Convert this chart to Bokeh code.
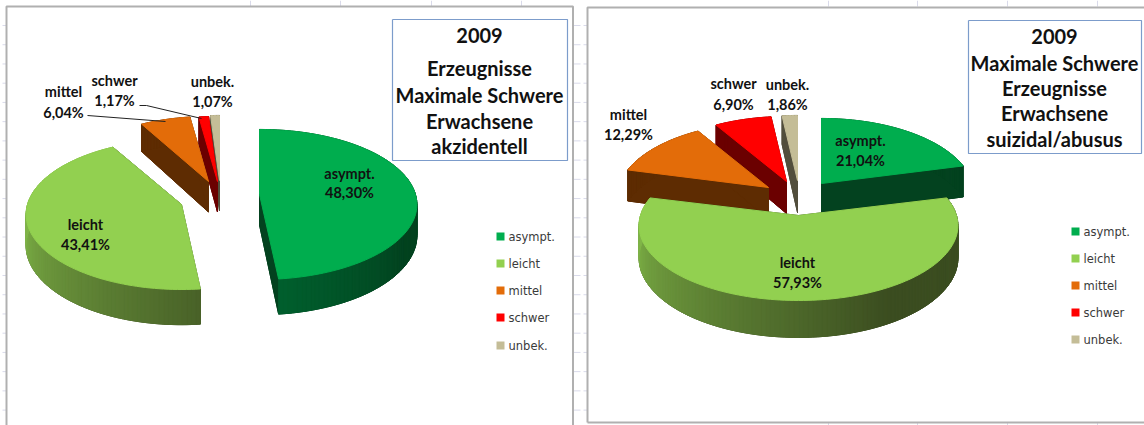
import numpy as np
from bokeh.plotting import figure
from bokeh.models import Range1d
from bokeh.core.properties import value
from bokeh.embed import file_html
from bokeh.resources import INLINE

# ---- data ----
categories = ["asympt.", "leicht", "mittel", "schwer", "unbek."]
values_left = [48.30, 43.41, 6.04, 1.17, 1.07]
values_right = [21.04, 57.93, 12.29, 6.90, 1.86]
title_left = ["2009", "Erzeugnisse", "Maximale Schwere", "Erwachsene", "akzidentell"]
title_right = ["2009", "Maximale Schwere", "Erzeugnisse", "Erwachsene", "suizidal/abusus"]

# ---- styles ----
top_colors = ["#00AD4E", "#92D050", "#E36C09", "#FF0000", "#C4BD97"]
wall_colors = ["#03421F", "#3B4D20", "#5E2C02", "#6B0000", "#524E3C"]
grad_colors = {0: ("#03421F", "#00602E", 120, 176), 1: ("#3B4D20", "#80B548", 150, 270)}

# ---- layout (page pixels) ----
W, H = 1144, 425
RY, KP = 73.7, 0.133
pies = [
    dict(vals=values_left, depth=30.5,
         apex=[(259, 194), (181, 204), (208, 181), (217, 181), (219, 180)],
         rx=[156, 154, 150, 150, 150]),
    dict(vals=values_right, depth=32,
         apex=[(821, 183), (798, 215), (768, 187), (786, 181), (797, 180)],
         rx=[151, 158, 150, 150, 150]),
]
draw_order = [4, 3, 2, 0, 1]

def hex2rgb(h):
    return np.array([int(h[i:i+2], 16) for i in (1, 3, 5)], float)

def mix(a, b, t):
    c = hex2rgb(a) * (1 - t) + hex2rgb(b) * t
    return "#%02X%02X%02X" % tuple(int(round(x)) for x in c)

def project(theta_deg, r, apex, rx, z, depth):
    th = np.radians(theta_deg)
    u, v = r * np.sin(th), r * np.cos(th)
    s = 1.0 / (1.0 + KP * v)
    return apex[0] + rx * u * s, apex[1] - RY * v * s + depth * z * s

xs, ys, fills = [], [], []

def add(px, py, color):
    xs.append(list(map(float, px)))
    ys.append(list(map(float, py)))
    fills.append(color)

for pie in pies:
    vals = np.array(pie["vals"], float)
    edges = np.concatenate([[0], np.cumsum(vals / vals.sum() * 360.0)])
    for i in draw_order:
        a0, a1 = edges[i], edges[i + 1]
        apex, rx, d = pie["apex"][i], pie["rx"][i], pie["depth"]
        ths = np.linspace(a0, a1, max(3, int((a1 - a0) / 1.5) + 2))
        tx, ty = project(ths, 1.0, apex, rx, 0, d)
        bx, by = project(ths, 1.0, apex, rx, 1, d)
        ax, ay = project(0, 0.0, apex, rx, 0, d)
        cx, cy = project(0, 0.0, apex, rx, 1, d)
        # bottom and radial faces
        add(np.r_[cx, bx], np.r_[cy, by], wall_colors[i])
        add([ax, tx[0], bx[0], cx], [ay, ty[0], by[0], cy], wall_colors[i])
        add([ax, tx[-1], bx[-1], cx], [ay, ty[-1], by[-1], cy], wall_colors[i])
        # outer wall strips
        for j in range(len(ths) - 1):
            color = wall_colors[i]
            if i in grad_colors:
                dark, light, lo, hi = grad_colors[i]
                mid = (ths[j] + ths[j + 1]) / 2
                color = mix(dark, light, float(np.clip((mid - lo) / (hi - lo), 0, 1)))
            add([tx[j], tx[j + 1], bx[j + 1], bx[j]], [ty[j], ty[j + 1], by[j + 1], by[j]], color)
        # top face
        add(np.r_[ax, tx], np.r_[ay, ty], top_colors[i])

p = figure(width=W, height=H, x_range=Range1d(0, W), y_range=Range1d(H, 0),
           output_backend="svg", toolbar_location=None, min_border=0,
           background_fill_color="white", border_fill_color="white",
           outline_line_color=None, margin=(0, 0, 0, 0))
p.axis.visible = False
p.xgrid.visible = False
p.ygrid.visible = False

# sheet gridline ticks around the chart frames
tick_y = [25 + 19.23 * k for k in range(21)]
tick_top_x = [250, 340, 431, 521, 828, 917, 1007, 1097]
p.segment(x0=[2] * 21 + [573] * 21 + [583] * 21, x1=[6] * 21 + [580] * 21 + [587] * 21,
          y0=tick_y * 3, y1=tick_y * 3, line_color="#D9DAEA", line_width=1)
p.segment(x0=tick_top_x, x1=tick_top_x, y0=[0] * 8, y1=[6] * 8, line_color="#D9DAEA", line_width=1)
p.segment(x0=tick_top_x[4:], x1=tick_top_x[4:], y0=[422] * 4, y1=[425] * 4, line_color="#D9DAEA", line_width=1)

# chart frames
p.multi_line(xs=[[6, 6, 572.5, 572.5], [587, 587, 1144], [587, 1144]],
             ys=[[425, 6, 6, 425], [422, 7, 7], [422, 422]],
             line_color="#B0B0B0", line_width=2)

# pie geometry
p.patches(xs=xs, ys=ys, fill_color=fills, line_color=fills, line_width=1.0)

# leader lines
p.multi_line(xs=[[87, 165], [139, 146, 201]], ys=[[115, 121], [105, 105, 118]],
             line_color="#222222", line_width=1)

def pct(v):
    return f"{v:.2f}%".replace(".", ",")

LABEL_FONT = value("Lato")

def label(cx, ylines, lines, size="14.5px"):
    p.text(x=[cx] * len(lines), y=ylines, text=lines, text_font=LABEL_FONT,
           text_font_size=size, text_font_style="bold", text_color="#111111",
           text_align="center", text_baseline="middle")

label_pos_left = [(349, 173, 192), (85, 224, 244), (63, 91, 112), (114, 80, 100), (212, 81, 101)]
label_pos_right = [(860, 140, 160), (797, 262, 282), (628, 114, 134), (733, 83, 104), (787, 84, 104)]
for vals, pos in ((values_left, label_pos_left), (values_right, label_pos_right)):
    for c, v, (cx, y1, y2) in zip(categories, vals, pos):
        label(cx, [y1, y2], [c, pct(v)])

# title boxes
p.multi_line(xs=[[392, 567, 567, 392, 392], [968, 1141, 1141, 968, 968]],
             ys=[[19, 19, 160, 160, 19], [20, 20, 153, 153, 20]],
             line_color="#7C9CCB", line_width=1.2)
label(479, [35, 67, 94, 120, 145], title_left, "20px")
label(1054, [36, 62, 87, 112, 138], title_right, "20px")

# legends
legend_rows = [(496, 508, [236, 263, 290, 317, 345]), (1071, 1083, [231, 258, 285, 312, 339])]
for sx, tx_, rows in legend_rows:
    p.quad(left=[sx] * 5, right=[sx + 8] * 5, top=[r - 4 for r in rows], bottom=[r + 4 for r in rows],
           fill_color=top_colors, line_color=None)
    p.text(x=[tx_] * 5, y=rows, text=categories, text_font=value("DejaVu Sans"),
           text_font_size="11.5px", text_color="#3A3A3A", text_align="left", text_baseline="middle")

open("out.html", "w").write(file_html(p, INLINE))
